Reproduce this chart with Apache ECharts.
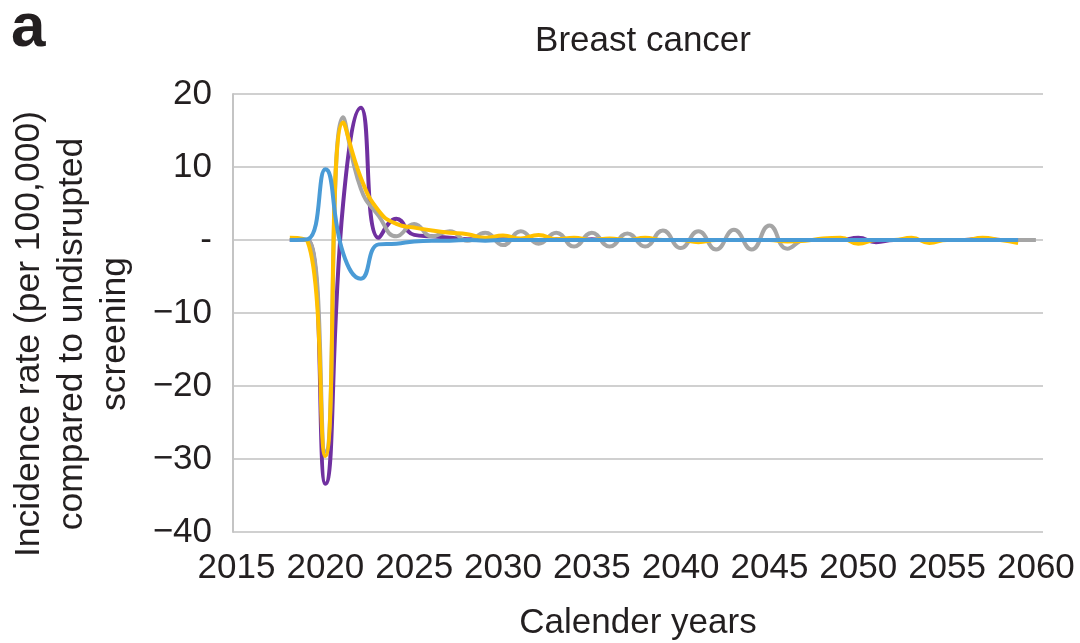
<!DOCTYPE html>
<html>
<head>
<meta charset="utf-8">
<script src="https://cdn.jsdelivr.net/npm/echarts@6/dist/echarts.min.js"></script>
<style>
html,body{margin:0;padding:0;background:#fff;}
#chart{width:1080px;height:643px;}
</style>
</head>
<body>
<div id="chart"></div>
<script>
const years = [];
for (let y = 2018; y <= 2060; y++) years.push(y);
const xTickLabels = [2015, 2020, 2025, 2030, 2035, 2040, 2045, 2050, 2055, 2060];
const yTicks = [20, 10, 0, -10, -20, -30, -40];

// values by year, 2018 .. 2060
const purpleVals = [0, 0, -33.4, 5, 18.1, 0.3, 2.9, 0.7, 0.5, 0.3, 0.1, 0.2, 0.1, 0.1, 0, 0.1, 0, 0.1, 0, 0, 0.1, 0, 0, 0, 0, 0, 0, 0, 0, 0, 0, 0, 0.3, -0.3, 0, 0, 0, 0, 0, 0.2, 0, 0, null];
const grayVals = [0, 0, -29, 16.8, 7.0, 3.3, 0.5, 2.2, 0.5, 1.2, -0.1, 1.0, -0.7, 1.2, -0.5, 1.0, -0.9, 1.0, -0.9, 0.9, -0.9, 1.3, -1.1, 1.2, -1.3, 1.4, -1.3, 2.0, -1.2, 0, 0, 0, 0, 0, 0, 0, 0, 0, 0, 0, 0, 0, 0];
const yellowVals = [0.3, -0.2, -29.6, 16.1, 8.5, 4.0, 2.2, 1.7, 1.3, 1.0, 0.8, 0.3, 0.6, 0.2, 0.7, 0.1, 0.3, 0, 0.2, 0, 0.3, 0, 0, -0.3, 0, 0, 0, 0, -0.2, -0.1, 0.2, 0.3, -0.5, 0, 0, 0.3, -0.4, 0, 0, 0.3, 0, -0.4, null];
const blueVals = [0, 0.1, 9.7, -1.8, -5.3, -0.6, -0.5, -0.2, -0.1, -0.1, 0, -0.1, 0, 0, 0, 0, 0, 0, 0, 0, 0, 0, 0, 0, 0, 0, 0, 0, 0, 0, 0, 0, 0, 0, 0, 0, 0, 0, 0, 0, 0, 0, null];

const FONT = 'Liberation Sans, Arial, sans-serif';
const TXT = '#231f20';

function pairs(vals) {
  return years.map((y, i) => [y, vals[i]]).filter(p => p[1] !== null && p[1] !== undefined);
}
function lineSeries(name, vals, color) {
  return {
    name: name, type: 'line', data: pairs(vals), smooth: 0.5,
    showSymbol: false, symbol: 'none',
    lineStyle: { color: color, width: 4 },
    itemStyle: { color: color }, animation: false
  };
}

const chart = echarts.init(document.getElementById('chart'));
chart.setOption({
  animation: false,
  backgroundColor: '#ffffff',
  title: {
    text: 'Breast cancer', left: 638, textAlign: 'center', top: 19,
    textStyle: { fontFamily: FONT, fontSize: 35, fontWeight: 'normal', color: TXT }
  },
  grid: { left: 233, right: 37, top: 94, bottom: 111, containLabel: false },
  xAxis: {
    type: 'value', min: 2014.8, max: 2060.4,
    axisLine: { show: false },
    axisTick: { show: false },
    splitLine: { show: false },
    axisLabel: {
      customValues: xTickLabels, margin: 19,
      fontFamily: FONT, fontSize: 35, color: TXT,
      formatter: v => String(v)
    }
  },
  yAxis: {
    type: 'value', min: -40, max: 20, interval: 10,
    axisLine: { show: true, lineStyle: { color: '#c4c4c4', width: 2 } },
    axisTick: { show: false },
    splitLine: { show: true, lineStyle: { color: '#d0d0d0', width: 2 } },
    axisLabel: {
      margin: 21, fontFamily: FONT, fontSize: 35, color: TXT,
      formatter: v => v === 0 ? '-' : (v < 0 ? '\u2212' + Math.abs(v) : String(v))
    }
  },
  graphic: [
    { type: 'text', left: 11, top: -2,
      style: { text: 'a', font: 'bold 62px ' + FONT, fill: TXT } },
    { type: 'text', x: 72, y: 334, rotation: Math.PI / 2,
      style: { text: 'Incidence rate (per 100,000)\ncompared to undisrupted\nscreening',
        font: '35.5px ' + FONT, fill: TXT, align: 'center', verticalAlign: 'middle', lineHeight: 43 } },
    { type: 'text', x: 638, y: 623,
      style: { text: 'Calender years', font: '35px ' + FONT, fill: TXT, align: 'center', verticalAlign: 'middle' } }
  ],
  series: [
    lineSeries('Purple', purpleVals, '#7030a0'),
    lineSeries('Gray', grayVals, '#a5a5a5'),
    lineSeries('Yellow', yellowVals, '#ffc000'),
    lineSeries('Blue', blueVals, '#4a9bd6')
  ]
});
</script>
</body>
</html>
